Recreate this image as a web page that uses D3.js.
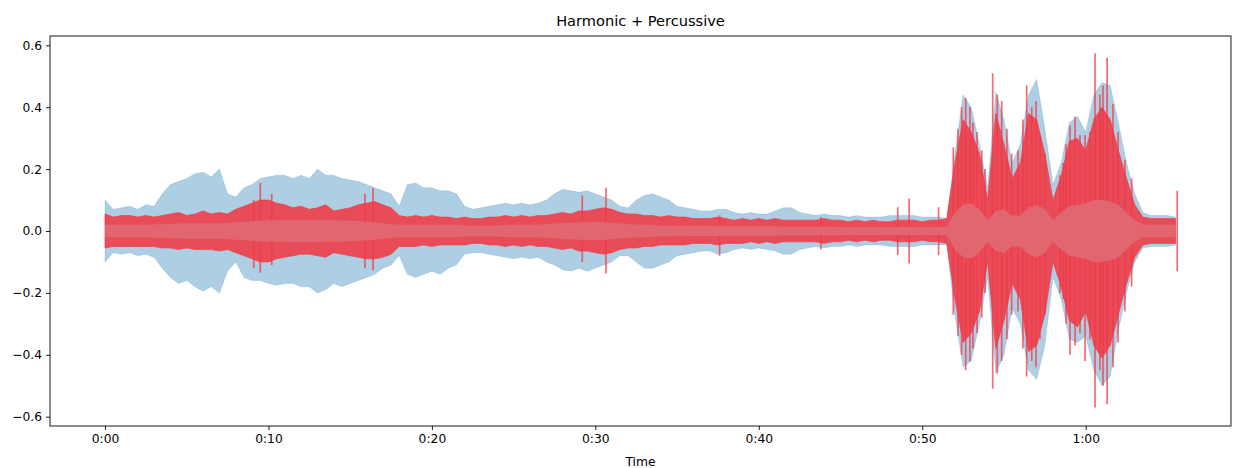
<!DOCTYPE html>
<html>
<head>
<meta charset="utf-8">
<script src="https://cdn.jsdelivr.net/npm/d3@7"></script>
<style>
  html, body { margin: 0; padding: 0; background: #fff; }
  svg { display: block; }
  text { font-family: "DejaVu Sans", sans-serif; fill: #000; }
</style>
</head>
<body>
<svg id="chart" width="1233" height="468"></svg>
<script>
// ---------- data (envelopes sampled every 0.5 s) ----------
const sampleStep = 0.5; // seconds between envelope samples
const duration = 65.7;

const harmHi = [
  0.10, 0.07, 0.075, 0.08, 0.07, 0.085, 0.08, 0.12, 0.15, 0.16,
  0.17, 0.185, 0.19, 0.175, 0.20, 0.12, 0.11, 0.14, 0.15, 0.17,
  0.175, 0.18, 0.18, 0.17, 0.18, 0.17, 0.20, 0.18, 0.18, 0.17,
  0.165, 0.16, 0.15, 0.14, 0.13, 0.12, 0.08, 0.15, 0.155, 0.14,
  0.14, 0.13, 0.13, 0.12, 0.08, 0.07, 0.075, 0.08, 0.085, 0.09,
  0.085, 0.09, 0.085, 0.09, 0.10, 0.12, 0.135, 0.13, 0.125, 0.13,
  0.12, 0.11, 0.10, 0.08, 0.075, 0.10, 0.115, 0.12, 0.11, 0.10,
  0.08, 0.075, 0.07, 0.065, 0.065, 0.07, 0.07, 0.06, 0.055, 0.06,
  0.055, 0.055, 0.065, 0.075, 0.075, 0.06, 0.055, 0.05, 0.055, 0.05,
  0.05, 0.045, 0.05, 0.045, 0.045, 0.045, 0.05, 0.05, 0.05, 0.05,
  0.045, 0.045, 0.045, 0.04, 0.25, 0.44, 0.40, 0.28, 0.14, 0.45,
  0.36, 0.22, 0.28, 0.44, 0.49, 0.33, 0.15, 0.22, 0.35, 0.37,
  0.32, 0.44, 0.48, 0.47, 0.35, 0.22, 0.12, 0.06, 0.05, 0.05,
  0.05, 0.045
];
const harmLo = [
  -0.10, -0.07, -0.075, -0.07, -0.08, -0.075, -0.085, -0.12, -0.15, -0.17,
  -0.16, -0.18, -0.195, -0.18, -0.20, -0.13, -0.10, -0.15, -0.16, -0.16,
  -0.17, -0.175, -0.17, -0.17, -0.18, -0.18, -0.20, -0.19, -0.17, -0.18,
  -0.17, -0.16, -0.15, -0.14, -0.12, -0.11, -0.08, -0.14, -0.15, -0.14,
  -0.13, -0.14, -0.12, -0.11, -0.075, -0.07, -0.07, -0.075, -0.08, -0.085,
  -0.09, -0.085, -0.09, -0.085, -0.10, -0.11, -0.125, -0.13, -0.12, -0.13,
  -0.12, -0.11, -0.10, -0.08, -0.08, -0.10, -0.12, -0.12, -0.11, -0.10,
  -0.08, -0.075, -0.07, -0.065, -0.065, -0.075, -0.07, -0.06, -0.055, -0.06,
  -0.055, -0.06, -0.065, -0.075, -0.075, -0.06, -0.055, -0.05, -0.055, -0.05,
  -0.05, -0.045, -0.05, -0.045, -0.045, -0.045, -0.05, -0.05, -0.05, -0.05,
  -0.045, -0.045, -0.045, -0.045, -0.27, -0.44, -0.42, -0.30, -0.15, -0.46,
  -0.40, -0.25, -0.30, -0.45, -0.48, -0.37, -0.15, -0.22, -0.35, -0.36,
  -0.34, -0.45, -0.50, -0.47, -0.32, -0.20, -0.10, -0.055, -0.05, -0.05,
  -0.05, -0.045
];
const percHi = [
  0.055, 0.045, 0.05, 0.05, 0.045, 0.05, 0.045, 0.05, 0.055, 0.06,
  0.05, 0.055, 0.065, 0.055, 0.06, 0.055, 0.07, 0.08, 0.09, 0.10,
  0.10, 0.09, 0.085, 0.075, 0.08, 0.07, 0.075, 0.085, 0.065, 0.07,
  0.075, 0.085, 0.09, 0.095, 0.085, 0.075, 0.05, 0.045, 0.05, 0.045,
  0.05, 0.045, 0.045, 0.04, 0.045, 0.04, 0.04, 0.045, 0.045, 0.05,
  0.045, 0.05, 0.045, 0.05, 0.05, 0.055, 0.06, 0.055, 0.065, 0.065,
  0.07, 0.075, 0.07, 0.06, 0.055, 0.055, 0.05, 0.05, 0.045, 0.05,
  0.045, 0.045, 0.04, 0.04, 0.04, 0.045, 0.04, 0.035, 0.04, 0.035,
  0.04, 0.035, 0.04, 0.035, 0.035, 0.035, 0.035, 0.035, 0.04, 0.035,
  0.035, 0.03, 0.035, 0.03, 0.035, 0.03, 0.03, 0.035, 0.035, 0.035,
  0.03, 0.035, 0.035, 0.04, 0.22, 0.36, 0.32, 0.25, 0.10, 0.38,
  0.28, 0.17, 0.22, 0.38, 0.36, 0.25, 0.10, 0.18, 0.29, 0.30,
  0.26, 0.36, 0.40, 0.36, 0.26, 0.17, 0.085, 0.045, 0.04, 0.04,
  0.04, 0.04
];
const percLo = [
  -0.055, -0.05, -0.05, -0.05, -0.05, -0.05, -0.05, -0.055, -0.055, -0.06,
  -0.055, -0.06, -0.06, -0.06, -0.065, -0.06, -0.07, -0.08, -0.09, -0.10,
  -0.10, -0.09, -0.085, -0.08, -0.075, -0.075, -0.08, -0.085, -0.07, -0.075,
  -0.08, -0.085, -0.09, -0.09, -0.085, -0.075, -0.05, -0.05, -0.05, -0.045,
  -0.05, -0.045, -0.045, -0.045, -0.045, -0.04, -0.04, -0.045, -0.045, -0.05,
  -0.045, -0.05, -0.045, -0.05, -0.05, -0.055, -0.06, -0.055, -0.065, -0.065,
  -0.07, -0.075, -0.07, -0.06, -0.055, -0.055, -0.05, -0.05, -0.045, -0.045,
  -0.045, -0.045, -0.04, -0.04, -0.04, -0.045, -0.04, -0.04, -0.04, -0.035,
  -0.04, -0.035, -0.04, -0.035, -0.035, -0.035, -0.035, -0.035, -0.04, -0.035,
  -0.035, -0.03, -0.035, -0.03, -0.035, -0.03, -0.03, -0.035, -0.035, -0.035,
  -0.03, -0.035, -0.035, -0.04, -0.22, -0.36, -0.33, -0.26, -0.10, -0.38,
  -0.29, -0.17, -0.22, -0.39, -0.37, -0.27, -0.10, -0.18, -0.29, -0.31,
  -0.26, -0.37, -0.41, -0.37, -0.27, -0.17, -0.085, -0.045, -0.04, -0.04,
  -0.04, -0.04
];
const percCore = [
  0.02, 0.02, 0.02, 0.02, 0.02, 0.02, 0.022, 0.022, 0.022, 0.024,
  0.025, 0.025, 0.025, 0.025, 0.025, 0.026, 0.028, 0.03, 0.032, 0.034,
  0.035, 0.035, 0.035, 0.036, 0.036, 0.036, 0.036, 0.035, 0.035, 0.034,
  0.033, 0.032, 0.03, 0.028, 0.025, 0.022, 0.02, 0.02, 0.02, 0.02,
  0.02, 0.02, 0.02, 0.02, 0.018, 0.018, 0.018, 0.018, 0.018, 0.019,
  0.02, 0.02, 0.02, 0.021, 0.022, 0.024, 0.026, 0.027, 0.028, 0.029,
  0.03, 0.029, 0.026, 0.024, 0.022, 0.021, 0.02, 0.019, 0.018, 0.018,
  0.017, 0.017, 0.016, 0.016, 0.016, 0.016, 0.015, 0.015, 0.015, 0.015,
  0.015, 0.015, 0.015, 0.014, 0.014, 0.014, 0.014, 0.014, 0.014, 0.014,
  0.013, 0.013, 0.013, 0.013, 0.013, 0.013, 0.013, 0.013, 0.013, 0.013,
  0.013, 0.013, 0.013, 0.013, 0.06, 0.085, 0.09, 0.07, 0.035, 0.065,
  0.07, 0.05, 0.05, 0.075, 0.085, 0.07, 0.035, 0.06, 0.08, 0.085,
  0.09, 0.10, 0.10, 0.095, 0.085, 0.06, 0.035, 0.02, 0.02, 0.02,
  0.02, 0.02
];

// percussive transients (time in s, peak, trough)
const spikeTimes = [
  9.1, 9.5, 10.2, 15.9, 16.4, 29.2, 30.65, 37.6, 43.8, 48.5, 49.2, 51.0,
  51.9, 52.19, 52.41, 52.66, 52.92, 53.1, 53.35, 53.64, 53.84,
  54.31, 54.59, 54.86, 55.18, 55.47,
  55.86, 56.16, 56.39, 56.7, 56.96, 57.2, 57.51,
  58.43, 58.63, 58.8, 59.04, 59.35, 59.65, 59.96, 60.26,
  60.57, 60.87, 61.06, 61.31, 61.67, 61.98, 62.4, 62.81,
  65.6
];
const spikeHi = [
  0.10, 0.155, 0.12, 0.12, 0.14, 0.115, 0.14, 0.05, 0.045, 0.077, 0.105, 0.077,
  0.27, 0.33, 0.40, 0.43, 0.40, 0.35, 0.32, 0.26, 0.20,
  0.51, 0.44, 0.42, 0.33, 0.25,
  0.26, 0.36, 0.47, 0.40, 0.42, 0.31, 0.25,
  0.18, 0.22, 0.28, 0.34, 0.37, 0.31, 0.31, 0.32,
  0.574, 0.44, 0.47, 0.56, 0.41, 0.32, 0.23, 0.17,
  0.13
];
const spikeLo = [
  -0.12, -0.135, -0.11, -0.12, -0.127, -0.10, -0.137, -0.08, -0.06, -0.078, -0.105, -0.078,
  -0.27, -0.34, -0.40, -0.45, -0.42, -0.38, -0.33, -0.28, -0.20,
  -0.51, -0.46, -0.42, -0.35, -0.27,
  -0.26, -0.38, -0.47, -0.42, -0.44, -0.35, -0.27,
  -0.20, -0.22, -0.30, -0.40, -0.37, -0.33, -0.42, -0.35,
  -0.57, -0.45, -0.50, -0.56, -0.44, -0.36, -0.26, -0.18,
  -0.13
];

const yTicks = [-0.6, -0.4, -0.2, 0.0, 0.2, 0.4, 0.6];
const xTicks = [0, 10, 20, 30, 40, 50, 60];
const xTickLabels = ["0:00", "0:10", "0:20", "0:30", "0:40", "0:50", "1:00"];

// ---------- layout ----------
const svg = d3.select("#chart");
const plot = { left: 50, right: 1231, top: 36, bottom: 426 };

const x = d3.scaleLinear().domain([-3.365, 68.89]).range([plot.left, plot.right]);
const y = d3.scaleLinear().domain([-0.63, 0.63]).range([plot.bottom, plot.top]);

svg.append("defs").append("clipPath").attr("id", "clip")
  .append("rect").attr("x", plot.left).attr("y", plot.top)
  .attr("width", plot.right - plot.left).attr("height", plot.bottom - plot.top);

const g = svg.append("g").attr("clip-path", "url(#clip)");

const tOf = i => Math.min(i * sampleStep, duration);

const harm = harmHi.map((v, i) => ({ t: tOf(i), hi: v, lo: harmLo[i] }));
const perc = percHi.map((v, i) => ({ t: tOf(i), hi: v, lo: percLo[i], c: percCore[i] }));

const areaHL = d3.area().x(d => x(d.t)).y0(d => y(d.lo)).y1(d => y(d.hi)).curve(d3.curveLinear);
const areaCore = d3.area().x(d => x(d.t)).y0(d => y(-d.c)).y1(d => y(d.c)).curve(d3.curveLinear);

const RED = "#f03a45";

// harmonic (blue)
g.append("path").datum(harm).attr("d", areaHL)
  .attr("fill", "#1f77b4").attr("fill-opacity", 0.36)
  .attr("stroke", "#1f77b4").attr("stroke-opacity", 0.2).attr("stroke-width", 0.8);

// percussive (red) dense envelope
g.append("path").datum(perc).attr("d", areaHL)
  .attr("fill", RED).attr("fill-opacity", 0.88)
  .attr("stroke", RED).attr("stroke-opacity", 0.7).attr("stroke-width", 0.9);

// percussive transients
g.selectAll("line.spike").data(spikeTimes).join("line")
  .attr("class", "spike")
  .attr("x1", d => x(d)).attr("x2", d => x(d))
  .attr("y1", (d, i) => y(spikeHi[i])).attr("y2", (d, i) => y(spikeLo[i]))
  .attr("stroke", RED).attr("stroke-opacity", 0.75).attr("stroke-width", 1.7);

// percussive core
g.append("path").datum(perc).attr("d", areaCore)
  .attr("fill", "#e1666f");

// ---------- axes ----------
const fmt = d3.format(".1f");
const yAxis = d3.axisLeft(y).tickValues(yTicks).tickFormat(fmt).tickSize(4).tickPadding(4);
const xAxis = d3.axisBottom(x).tickValues(xTicks).tickFormat((d, i) => xTickLabels[i]).tickSize(4).tickPadding(4);

const ya = svg.append("g").attr("transform", `translate(${plot.left},0)`).call(yAxis);
const xa = svg.append("g").attr("transform", `translate(0,${plot.bottom})`).call(xAxis);
[ya, xa].forEach(a => {
  a.select(".domain").remove();
  a.selectAll("text").style("font-family", "DejaVu Sans, sans-serif").style("font-size", "12.3px").attr("fill", "#000");
  a.selectAll("line").attr("stroke", "#000").attr("stroke-width", 0.9);
});

// frame
svg.append("rect")
  .attr("x", plot.left).attr("y", plot.top)
  .attr("width", plot.right - plot.left).attr("height", plot.bottom - plot.top)
  .attr("fill", "none").attr("stroke", "#000").attr("stroke-width", 0.9);

// title and label
svg.append("text").attr("x", (plot.left + plot.right) / 2).attr("y", 26)
  .attr("text-anchor", "middle").style("font-size", "14.6px").text("Harmonic + Percussive");
svg.append("text").attr("x", (plot.left + plot.right) / 2).attr("y", 466)
  .attr("text-anchor", "middle").style("font-size", "12.3px").text("Time");
</script>
</body>
</html>
